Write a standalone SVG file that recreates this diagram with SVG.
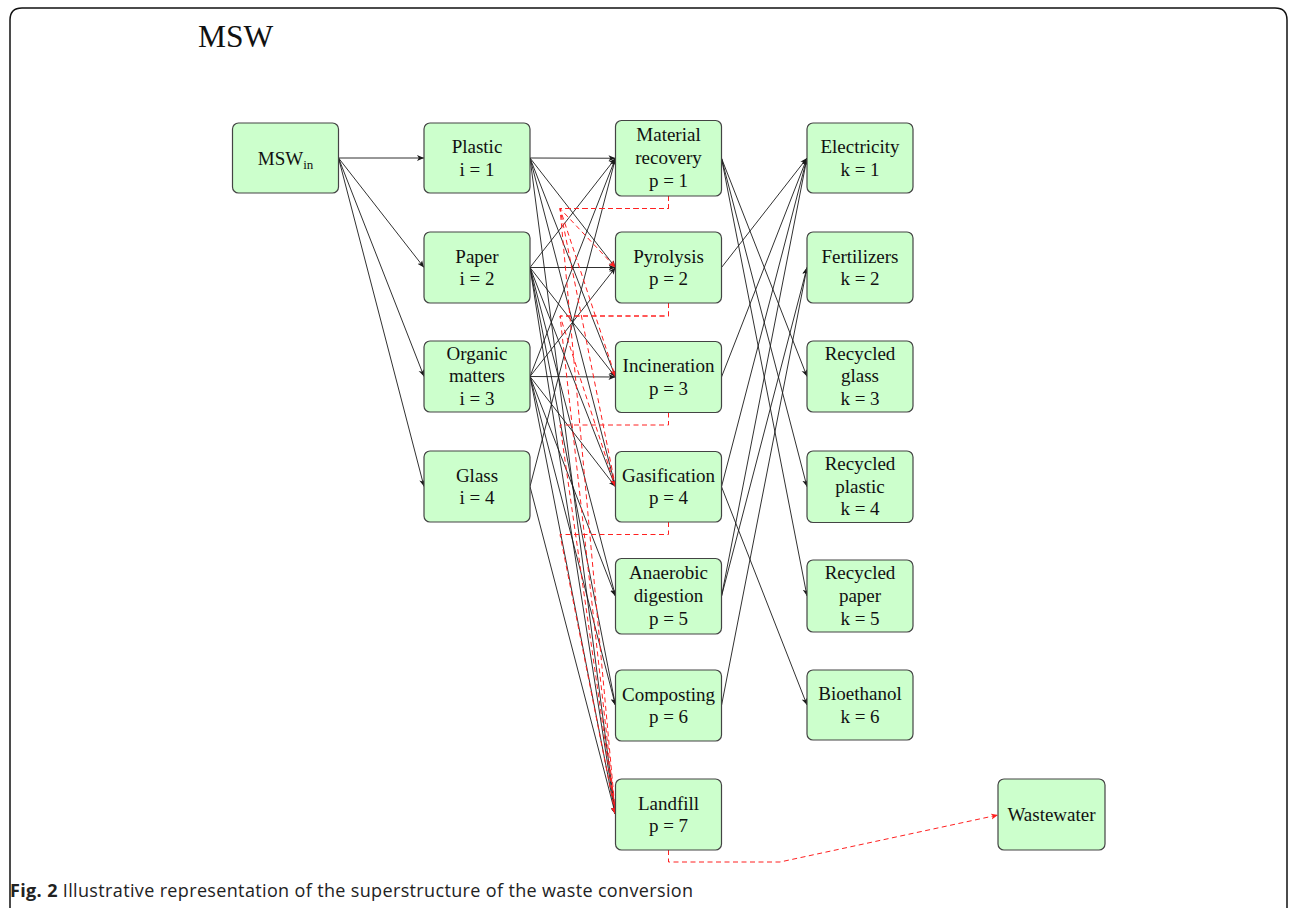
<svg xmlns="http://www.w3.org/2000/svg" width="1290" height="908" viewBox="0 0 1290 908">
<defs>
<style>
.n rect{fill:#ccffcc;stroke:#444;stroke-width:1.2}
.n text{font-family:"Liberation Serif","Times New Roman",serif;font-size:19px;fill:#111;text-anchor:middle}
.e{fill:none;stroke:#1a1a1a;stroke-width:0.9;marker-end:url(#ab)}
.r{fill:none;stroke:#ff2020;stroke-width:1;stroke-dasharray:5 3.5;marker-end:url(#ar)}
</style>
<marker id="ab" viewBox="0 0 8 8" refX="7" refY="4" markerWidth="8" markerHeight="8" markerUnits="userSpaceOnUse" orient="auto"><path d="M0,1 L7,4 L0,7 L1.8,4 z" fill="#1a1a1a"/></marker>
<marker id="ar" viewBox="0 0 8 8" refX="7" refY="4" markerWidth="8" markerHeight="8" markerUnits="userSpaceOnUse" orient="auto"><path d="M0,1 L7,4 L0,7 L1.8,4 z" fill="#ff2020"/></marker>
</defs>
<rect width="1290" height="908" fill="#ffffff"/>
<path d="M10,915 V20 Q10,8 22,8 H1275 Q1287,8 1287,20 V915" fill="none" stroke="#111" stroke-width="1.5"/>
<text x="198" y="46.5" font-family="'Liberation Serif','Times New Roman',serif" font-size="31.5" fill="#111">MSW</text>
<text x="10" y="897" font-family="'Open Sans','Noto Sans',sans-serif" font-size="18" fill="#222" textLength="683" lengthAdjust="spacing"><tspan font-weight="bold">Fig. 2</tspan> Illustrative representation of the superstructure of the waste conversion</text>

<g id="connectors">
<path class="e" d="M338.5,158 L424,158"/>
<path class="e" d="M338.5,158 L424,267.5"/>
<path class="e" d="M338.5,158 L424,376.5"/>
<path class="e" d="M338.5,158 L424,486.5"/>

<path class="e" d="M530,158 L615.5,158.25"/>
<path class="e" d="M530,158 L615.5,267.5"/>
<path class="e" d="M530,158 L615.5,377"/>
<path class="e" d="M530,158 L615.5,486.75"/>
<path class="e" d="M530,158 L615.5,814.5"/>

<path class="e" d="M530,267.5 L615.5,158.25"/>
<path class="e" d="M530,267.5 L615.5,267.5"/>
<path class="e" d="M530,267.5 L615.5,377"/>
<path class="e" d="M530,267.5 L615.5,486.75"/>
<path class="e" d="M530,267.5 L615.5,596.25"/>
<path class="e" d="M530,267.5 L615.5,705.5"/>
<path class="e" d="M530,267.5 L615.5,814.5"/>

<path class="e" d="M530,376.5 L615.5,158.25"/>
<path class="e" d="M530,376.5 L615.5,267.5"/>
<path class="e" d="M530,376.5 L615.5,377"/>
<path class="e" d="M530,376.5 L615.5,486.75"/>
<path class="e" d="M530,376.5 L615.5,596.25"/>
<path class="e" d="M530,376.5 L615.5,705.5"/>
<path class="e" d="M530,376.5 L615.5,814.5"/>

<path class="e" d="M530,486.5 L615.5,158.25"/>
<path class="e" d="M530,486.5 L615.5,814.5"/>

<path class="e" d="M721.5,158.25 L807,376.5"/>
<path class="e" d="M721.5,158.25 L807,486.75"/>
<path class="e" d="M721.5,158.25 L807,596"/>
<path class="e" d="M721.5,267.5 L807,158"/>
<path class="e" d="M721.5,377 L807,158"/>
<path class="e" d="M721.5,486.75 L807,158"/>
<path class="e" d="M721.5,486.75 L807,705"/>
<path class="e" d="M721.5,596.25 L807,158"/>
<path class="e" d="M721.5,596.25 L807,267.5"/>
<path class="e" d="M721.5,705.5 L807,267.5"/>

<path class="r" d="M668.5,196 V208.5 H560 L615.5,267.5"/>
<path class="r" d="M668.5,196 V208.5 H560 L615.5,377"/>
<path class="r" d="M668.5,196 V208.5 H560 L615.5,486.75"/>
<path class="r" d="M668.5,196 V208.5 H560 L615.5,814.5"/>
<path class="r" d="M668.5,303 V316 H560 L615.5,486.75"/>
<path class="r" d="M668.5,303 V316 H560 L615.5,814.5"/>
<path class="r" d="M668.5,412.5 V425 H560 L615.5,814.5"/>
<path class="r" d="M668.5,522 V534.5 H560 L615.5,814.5"/>
<path class="r" d="M668.5,850 V862 H780 L998,815"/>
</g>

<g id="msw_in" class="n"><rect x="232.5" y="123" width="106" height="70" rx="6"/><text x="285.5" y="164.5">MSW<tspan font-size="13" dy="4">in</tspan></text></g>

<g id="plastic" class="n"><rect x="424" y="123" width="106" height="70" rx="6"/><text x="477" y="153">Plastic</text><text x="477" y="175.5">i = 1</text></g>
<g id="paper" class="n"><rect x="424" y="232" width="106" height="71" rx="6"/><text x="477" y="262.5">Paper</text><text x="477" y="285">i = 2</text></g>
<g id="organic" class="n"><rect x="424" y="341" width="106" height="71" rx="6"/><text x="477" y="359.5">Organic</text><text x="477" y="382.25">matters</text><text x="477" y="405">i = 3</text></g>
<g id="glass" class="n"><rect x="424" y="451" width="106" height="71" rx="6"/><text x="477" y="481.5">Glass</text><text x="477" y="504">i = 4</text></g>

<g id="material_recovery" class="n"><rect x="615.5" y="120.5" width="106" height="75.5" rx="6"/><text x="668.5" y="141.25">Material</text><text x="668.5" y="164">recovery</text><text x="668.5" y="186.75">p = 1</text></g>
<g id="pyrolysis" class="n"><rect x="615.5" y="232" width="106" height="71" rx="6"/><text x="668.5" y="262.5">Pyrolysis</text><text x="668.5" y="285">p = 2</text></g>
<g id="incineration" class="n"><rect x="615.5" y="341.5" width="106" height="71" rx="6"/><text x="668.5" y="372">Incineration</text><text x="668.5" y="394.5">p = 3</text></g>
<g id="gasification" class="n"><rect x="615.5" y="451.5" width="106" height="70.5" rx="6"/><text x="668.5" y="481.75">Gasification</text><text x="668.5" y="504.25">p = 4</text></g>
<g id="anaerobic_digestion" class="n"><rect x="615.5" y="558.5" width="106" height="75.5" rx="6"/><text x="668.5" y="579.25">Anaerobic</text><text x="668.5" y="602">digestion</text><text x="668.5" y="624.75">p = 5</text></g>
<g id="composting" class="n"><rect x="615.5" y="670" width="106" height="71" rx="6"/><text x="668.5" y="700.5">Composting</text><text x="668.5" y="723">p = 6</text></g>
<g id="landfill" class="n"><rect x="615.5" y="779" width="106" height="71" rx="6"/><text x="668.5" y="809.5">Landfill</text><text x="668.5" y="832">p = 7</text></g>

<g id="electricity" class="n"><rect x="807" y="123" width="106" height="70" rx="6"/><text x="860" y="153">Electricity</text><text x="860" y="175.5">k = 1</text></g>
<g id="fertilizers" class="n"><rect x="807" y="232" width="106" height="71" rx="6"/><text x="860" y="262.5">Fertilizers</text><text x="860" y="285">k = 2</text></g>
<g id="recycled_glass" class="n"><rect x="807" y="341" width="106" height="71" rx="6"/><text x="860" y="359.5">Recycled</text><text x="860" y="382.25">glass</text><text x="860" y="405">k = 3</text></g>
<g id="recycled_plastic" class="n"><rect x="807" y="451" width="106" height="71.5" rx="6"/><text x="860" y="469.75">Recycled</text><text x="860" y="492.5">plastic</text><text x="860" y="515.25">k = 4</text></g>
<g id="recycled_paper" class="n"><rect x="807" y="560" width="106" height="72" rx="6"/><text x="860" y="579">Recycled</text><text x="860" y="601.75">paper</text><text x="860" y="624.5">k = 5</text></g>
<g id="bioethanol" class="n"><rect x="807" y="670" width="106" height="70" rx="6"/><text x="860" y="700">Bioethanol</text><text x="860" y="722.5">k = 6</text></g>

<g id="wastewater" class="n"><rect x="998" y="779" width="107" height="71" rx="6"/><text x="1051.5" y="821">Wastewater</text></g>
</svg>
